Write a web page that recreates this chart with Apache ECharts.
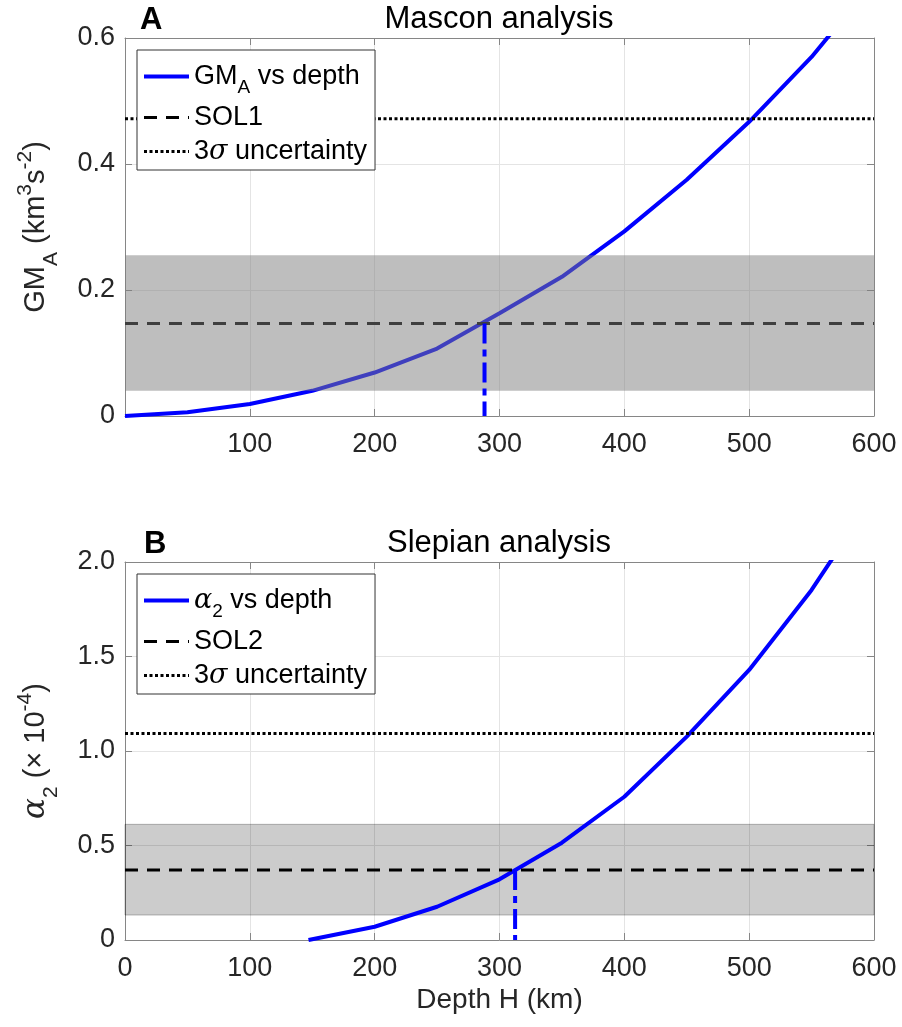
<!DOCTYPE html>
<html>
<head>
<meta charset="utf-8">
<script src="https://cdn.jsdelivr.net/npm/echarts@6/dist/echarts.min.js"></script>
<style>
  html, body { margin: 0; padding: 0; background: #fff; }
  #chart { width: 902px; height: 1027px; }
</style>
</head>
<body>
<div id="chart"></div>
<script>
// Panel A: mascon analysis
const depthA = [0, 50, 100, 150, 200, 250, 300, 350, 400, 450, 500, 550, 600];
const gmA = [0, 0.006, 0.019, 0.040, 0.069, 0.107, 0.163, 0.221, 0.293, 0.375, 0.467, 0.570, 0.69];
const sol1 = 0.147;
const sigma1 = 0.472;
const bandA = [0.04, 0.255];
const crossA = 288;
const yTicksA = [0, 0.2, 0.4, 0.6];

// Panel B: slepian analysis
const depthB = [147, 200, 250, 300, 350, 400, 450, 500, 550, 600];
const alphaB = [0, 0.070, 0.176, 0.321, 0.515, 0.758, 1.076, 1.429, 1.852, 2.35];
const sol2 = 0.37;
const sigma2 = 1.092;
const bandB = [0.132, 0.612];
const crossB = 312.5;
const yTicksB = [0, 0.5, 1.0, 1.5, 2.0];

const xTicks = [0, 100, 200, 300, 400, 500, 600];

const font = '"Liberation Sans", Helvetica, Arial, sans-serif';
const ink = '#262626';
const boxColor = '#868686';

const chart = echarts.init(document.getElementById('chart'));

const zip = (xs, ys) => xs.map((x, i) => [x, ys[i]]);
const fmtY = v => (v === 0 ? '0' : v.toFixed(1));

function xAxesFor(gi, showZero, name) {
  const base = {
    type: 'value', gridIndex: gi,
    min: xTicks[0], max: xTicks[xTicks.length - 1], interval: xTicks[1] - xTicks[0],
    axisLine: { show: true, onZero: false, lineStyle: { color: boxColor, width: 1 } },
    axisTick: { show: true, inside: true, length: 7, lineStyle: { color: boxColor } }
  };
  return [
    Object.assign({}, base, {
      position: 'bottom',
      axisLabel: {
        fontSize: 27, color: ink, fontFamily: font, margin: 15,
        formatter: v => (v === 0 && !showZero ? '' : String(v))
      },
      splitLine: { show: true, lineStyle: { color: '#e4e4e4', width: 1 } },
      name: name || '', nameLocation: 'middle', nameGap: 46,
      nameTextStyle: { fontSize: 28, color: ink, fontFamily: font }
    }),
    Object.assign({}, base, {
      position: 'top',
      axisLabel: { show: false },
      splitLine: { show: false }
    })
  ];
}

function yAxesFor(gi, ticks, name, rich) {
  const base = {
    type: 'value', gridIndex: gi,
    min: ticks[0], max: ticks[ticks.length - 1], interval: ticks[1] - ticks[0],
    axisLine: { show: true, onZero: false, lineStyle: { color: boxColor, width: 1 } },
    axisTick: { show: true, inside: true, length: 7, lineStyle: { color: boxColor } }
  };
  return [
    Object.assign({}, base, {
      position: 'left',
      axisLabel: { fontSize: 27, color: ink, fontFamily: font, margin: 10, formatter: fmtY },
      splitLine: { show: true, lineStyle: { color: '#e4e4e4', width: 1 } },
      name: name, nameLocation: 'middle', nameRotate: 90, nameGap: 63,
      nameTextStyle: { fontSize: 29, color: ink, fontFamily: font, rich: rich }
    }),
    Object.assign({}, base, {
      position: 'right',
      axisLabel: { show: false },
      splitLine: { show: false }
    })
  ];
}

const nameRich = {
  m: { fontSize: 29, color: ink, fontFamily: font },
  i: { fontSize: 31, color: ink, fontFamily: '"DejaVu Serif", serif', fontStyle: 'italic' },
  s: { fontSize: 21, color: ink, fontFamily: font, padding: [32, 0, 0, 0] },
  p: { fontSize: 21, color: ink, fontFamily: font, padding: [0, 0, 20, 0] }
};

const legendRich = {
  m: { fontSize: 27, color: '#000', fontFamily: font, lineHeight: 31 },
  i: { fontSize: 27, color: '#000', fontFamily: '"DejaVu Serif", serif', fontStyle: 'italic', lineHeight: 31 },
  s: { fontSize: 19, color: '#000', fontFamily: font, lineHeight: 19, padding: [22, 0, 0, 0] }
};

const legendNames = {
  'GM_A vs depth': '{m|GM}{s|A}{m| vs depth}',
  'alpha_2 vs depth': '{i|α}{s|2}{m| vs depth}',
  'SOL1': '{m|SOL1}',
  'SOL2': '{m|SOL2}',
  '3σ uncertainty': '{m|3}{i|σ}{m| uncertainty}'
};

function legendFor(top, names) {
  return {
    orient: 'vertical', left: 137, top: top,
    data: names,
    itemWidth: 45, itemHeight: 12, itemGap: 7,
    padding: [6, 8, 5, 5],
    backgroundColor: '#fff',
    borderColor: '#333', borderWidth: 1,
    selectedMode: false,
    itemStyle: { opacity: 0 },
    lineStyle: { width: 'inherit' },
    textStyle: { rich: legendRich, fontSize: 27, fontFamily: font },
    formatter: n => legendNames[n]
  };
}

const blueStyle = { color: '#0000ff', width: 4 };
const dashStyle = { color: '#000', width: 3, type: [13, 9] };
const dotStyle = { color: '#000', width: 3, type: [3, 2.5] };
const dashDot = { color: '#0000ff', width: 4, type: [20, 6, 7, 6] };

function hline(name, gi, v, style, z) {
  return {
    name: name, type: 'line', xAxisIndex: gi * 2, yAxisIndex: gi * 2,
    data: [[xTicks[0], v], [xTicks[xTicks.length - 1], v]],
    symbol: 'none', lineStyle: style, itemStyle: { color: style.color }, z: z, silent: true
  };
}

const series = [
  // Panel A
  {
    name: 'GM_A vs depth', type: 'line', xAxisIndex: 0, yAxisIndex: 0,
    data: zip(depthA, gmA), symbol: 'none', lineStyle: blueStyle,
    itemStyle: { color: '#0000ff' }, z: 2, silent: true
  },
  hline('SOL1', 0, sol1, dashStyle, 2),
  hline('3σ uncertainty', 0, sigma1, dotStyle, 2),
  {
    name: 'bandA', type: 'line', xAxisIndex: 0, yAxisIndex: 0, data: [], z: 5,
    markArea: {
      silent: true, z: 5,
      itemStyle: { color: 'rgba(126,126,126,0.5)' },
      data: [[{ yAxis: bandA[0] }, { yAxis: bandA[1] }]]
    }
  },
  {
    name: 'crossA', type: 'line', xAxisIndex: 0, yAxisIndex: 0,
    data: [[crossA, sol1], [crossA, 0]], symbol: 'none', lineStyle: dashDot, z: 6, silent: true
  },
  // Panel B
  {
    name: 'bandB', type: 'line', xAxisIndex: 2, yAxisIndex: 2, data: [], z: 1,
    markArea: {
      silent: true, z: 1,
      itemStyle: { color: 'rgba(0,0,0,0.2)', borderColor: 'rgba(0,0,0,0.25)', borderWidth: 1 },
      data: [[{ yAxis: bandB[0] }, { yAxis: bandB[1] }]]
    }
  },
  {
    name: 'alpha_2 vs depth', type: 'line', xAxisIndex: 2, yAxisIndex: 2,
    data: zip(depthB, alphaB), symbol: 'none', lineStyle: blueStyle,
    itemStyle: { color: '#0000ff' }, z: 3, silent: true
  },
  hline('SOL2', 1, sol2, dashStyle, 4),
  hline('3σ uncertainty', 1, sigma2, dotStyle, 4),
  {
    name: 'crossB', type: 'line', xAxisIndex: 2, yAxisIndex: 2,
    data: [[crossB, sol2], [crossB, 0]], symbol: 'none', lineStyle: dashDot, z: 5, silent: true
  }
];

chart.setOption({
  animation: false,
  backgroundColor: '#fff',
  textStyle: { fontFamily: font },
  title: [
    { text: 'A', left: 140, top: 5, padding: 0, textStyle: { fontSize: 31, fontWeight: 'bold', color: '#000', fontFamily: font } },
    { text: 'Mascon analysis', left: 499, top: 4, padding: 0, textAlign: 'center', textStyle: { fontSize: 31, fontWeight: 'normal', color: '#000', fontFamily: font } },
    { text: 'B', left: 144, top: 529, padding: 0, textStyle: { fontSize: 31, fontWeight: 'bold', color: '#000', fontFamily: font } },
    { text: 'Slepian analysis', left: 499, top: 528, padding: 0, textAlign: 'center', textStyle: { fontSize: 31, fontWeight: 'normal', color: '#000', fontFamily: font } }
  ],
  grid: [
    { left: 125, top: 38, width: 749, height: 378 },
    { left: 125, top: 562, width: 749, height: 378 }
  ],
  xAxis: [].concat(xAxesFor(0, false, ''), xAxesFor(1, true, 'Depth H (km)')),
  yAxis: [].concat(
    yAxesFor(0, yTicksA, '{m|GM}{s|A}{m| (km}{p|3}{m|s}{p|-2}{m|)}', nameRich),
    yAxesFor(1, yTicksB, '{i|α}{s|2}{m| (× 10}{p|-4}{m|)}', nameRich)
  ),
  legend: [
    legendFor(50, ['GM_A vs depth', 'SOL1', '3σ uncertainty']),
    legendFor(574, ['alpha_2 vs depth', 'SOL2', '3σ uncertainty'])
  ],
  series: series
});
</script>
</body>
</html>
